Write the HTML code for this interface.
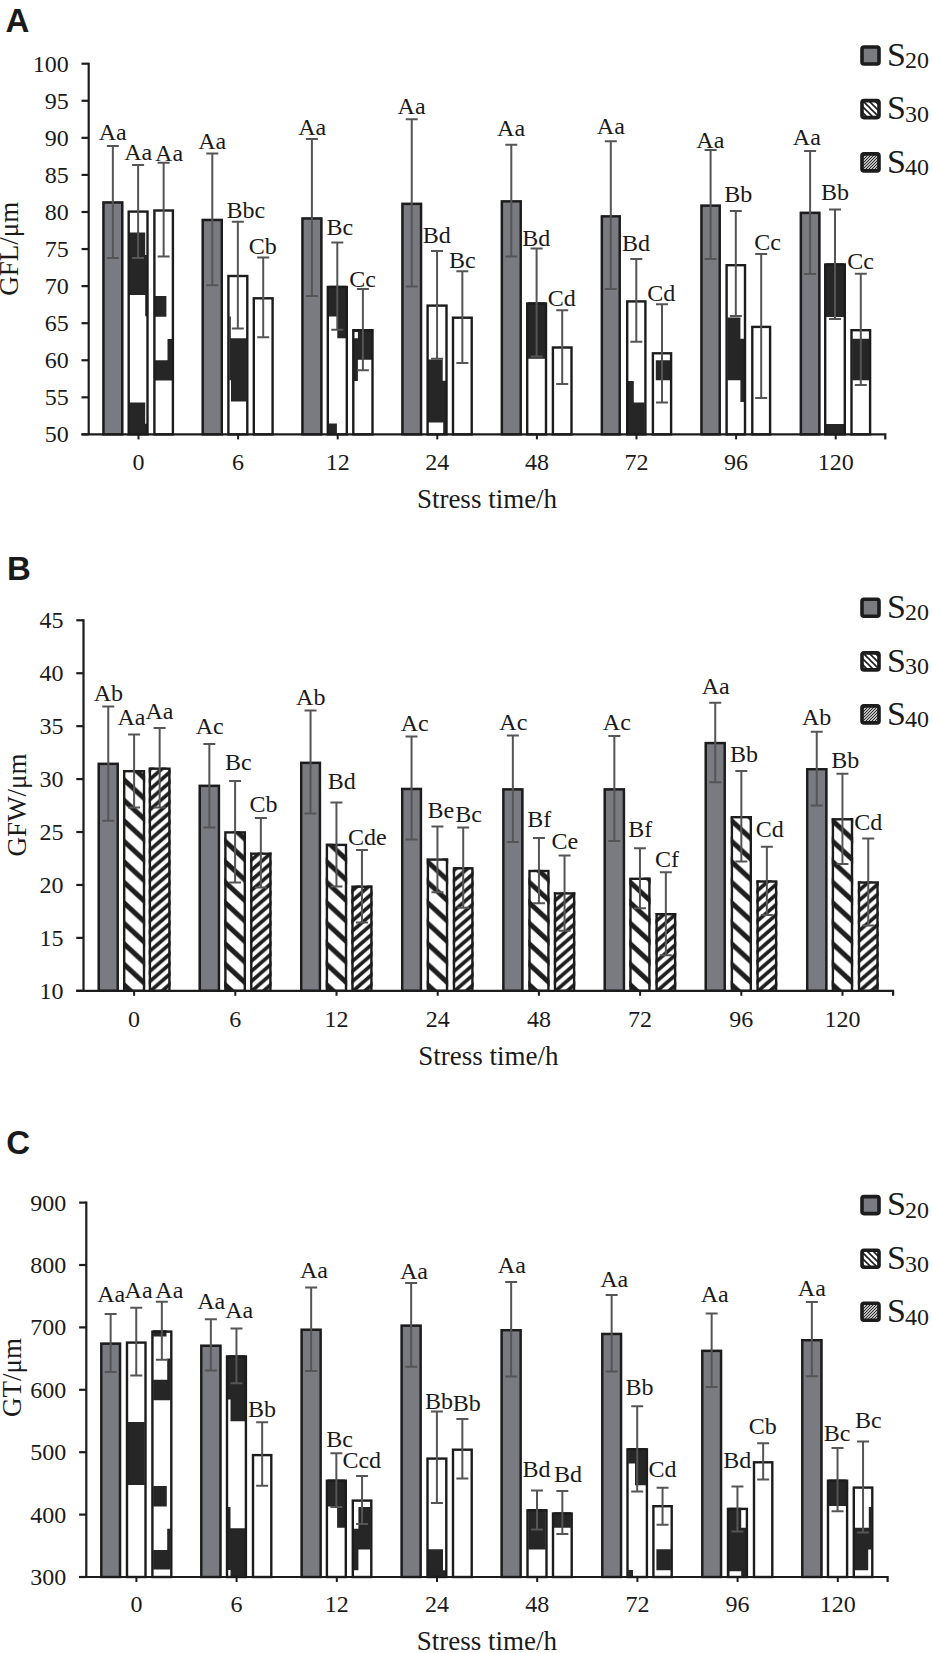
<!DOCTYPE html>
<html><head><meta charset="utf-8"><style>
html,body{margin:0;padding:0;background:#fff;}
svg{display:block;}
text{font-family:"Liberation Serif",serif;fill:#1a1a1a;}
.tk{font-size:24px;}
.dl{font-size:24px;}
.ax{font-size:27px;}
.lg{font-size:34px;}
.sub{font-size:24px;}
.pl{font-family:"Liberation Sans",sans-serif;font-weight:bold;font-size:33px;}
</style></head><body>
<svg width="933" height="1653" viewBox="0 0 933 1653">
<defs>
<pattern id="p30" patternUnits="userSpaceOnUse" width="22.283" height="20.5">
  <rect width="22.283" height="20.5" fill="#fff"/>
  <path d="M-3,-9.66 L25.283,16.36 M-3,10.84 L25.283,36.86 M-3,-30.16 L25.283,-4.14" stroke="#1e1e1e" stroke-width="5.0" fill="none"/>
</pattern>
<pattern id="p40" patternUnits="userSpaceOnUse" width="11.609" height="10.1">
  <rect width="11.609" height="10.1" fill="#fff"/>
  <path d="M-3,4.3 L14.609,-11.02 M-3,14.4 L14.609,-0.92 M-3,24.5 L14.609,9.18" stroke="#1e1e1e" stroke-width="3.7" fill="none"/>
</pattern>
<pattern id="l30" patternUnits="userSpaceOnUse" width="6" height="6">
  <rect width="6" height="6" fill="#fff"/>
  <path d="M-2,-2 L8,8 M-2,4 L2,8 M4,-2 L8,2" stroke="#1e1e1e" stroke-width="1.6" fill="none"/>
</pattern>
<pattern id="l40" patternUnits="userSpaceOnUse" width="3" height="3">
  <rect width="3" height="3" fill="#fff"/>
  <path d="M-1,4 L4,-1 M-1,1 L1,-1 M2,4 L4,2" stroke="#1e1e1e" stroke-width="1.1" fill="none"/>
</pattern>
</defs>
<rect width="933" height="1653" fill="#fff"/>
<rect x="102.3" y="201.3" width="21.1" height="233.1" fill="#797b80"/>
<rect x="127.5" y="210.4" width="21.2" height="224" fill="#fff"/>
<rect x="153.2" y="209.3" width="20.9" height="225.1" fill="#fff"/>
<rect x="201.6" y="218.8" width="21.4" height="215.6" fill="#797b80"/>
<rect x="227.2" y="274.8" width="21.3" height="159.6" fill="#fff"/>
<rect x="252.6" y="297.1" width="21.2" height="137.3" fill="#fff"/>
<rect x="301.3" y="217.3" width="21.2" height="217.1" fill="#797b80"/>
<rect x="326.6" y="285.8" width="21.4" height="148.6" fill="#fff"/>
<rect x="352.1" y="329" width="21.6" height="105.4" fill="#fff"/>
<rect x="401.3" y="202.7" width="20.9" height="231.7" fill="#797b80"/>
<rect x="426.4" y="304.4" width="21.3" height="130" fill="#fff"/>
<rect x="451.8" y="316.5" width="21.1" height="117.9" fill="#fff"/>
<rect x="500.7" y="200.2" width="21.2" height="234.2" fill="#797b80"/>
<rect x="526" y="302.3" width="21.2" height="132.1" fill="#fff"/>
<rect x="551.7" y="346.3" width="21" height="88.1" fill="#fff"/>
<rect x="600.7" y="215.2" width="20.2" height="219.2" fill="#797b80"/>
<rect x="626" y="300.2" width="20.6" height="134.2" fill="#fff"/>
<rect x="651.7" y="352.1" width="20.6" height="82.3" fill="#fff"/>
<rect x="700.3" y="204.5" width="20.6" height="229.9" fill="#797b80"/>
<rect x="725.4" y="264" width="20.8" height="170.4" fill="#fff"/>
<rect x="751.1" y="325.7" width="20.2" height="108.7" fill="#fff"/>
<rect x="799.7" y="211.7" width="20.8" height="222.7" fill="#797b80"/>
<rect x="824" y="263.3" width="22" height="171.1" fill="#fff"/>
<rect x="850.3" y="329" width="21" height="105.4" fill="#fff"/>
<path d="M128.6,232.4H145.2V255H128.6ZM128.6,255H146.9V295.1H128.6ZM145.2,295.1H147V316.3H145.2ZM128.6,402.6H145.2V434.4H128.6ZM145.2,423.7H147V434.4H145.2ZM154.3,295.9H166.4V316.8H154.3ZM167.5,339H173.2V360.2H167.5ZM154.3,360.2H173.2V380.6H154.3ZM229.4,338.3H246.6V380.2H229.4ZM231,380.2H246.6V401.5H231ZM229.4,316.6H230.8V338.3H229.4ZM328.6,285.8H346V316.5H328.6ZM337.3,316.5H346V338.3H337.3ZM328.6,423.5H336.9V434.4H328.6ZM354,338.3H372V359.7H354ZM357.9,329H372V338.3H357.9ZM354,329H357.9V332H354ZM354,359.7H357.9V380.9H354ZM427.7,359.5H442.7V380.8H427.7ZM427.7,380.8H446.5V422.6H427.7ZM443.2,422.6H446.5V434.4H443.2ZM528,302.3H545.2V358.8H528ZM628,380.9H633.8V402.5H628ZM628,402.5H644.6V434.4H628ZM655.8,360.3H670.3V380.2H655.8ZM727.4,317.5H740.4V380.2H727.4ZM740.4,338.7H744.1V402.1H740.4ZM826,263.3H844V317.1H826ZM826,424H844V434.4H826ZM852.3,338.7H869.3V380.2H852.3Z" fill="#262626"/>
<rect x="103.5" y="202.5" width="18.7" height="231.9" fill="none" stroke="#1c1c1c" stroke-width="2.4"/>
<rect x="128.7" y="211.6" width="18.8" height="222.8" fill="none" stroke="#1c1c1c" stroke-width="2.4"/>
<rect x="154.4" y="210.5" width="18.5" height="223.9" fill="none" stroke="#1c1c1c" stroke-width="2.4"/>
<rect x="202.8" y="220" width="19" height="214.4" fill="none" stroke="#1c1c1c" stroke-width="2.4"/>
<rect x="228.4" y="276" width="18.9" height="158.4" fill="none" stroke="#1c1c1c" stroke-width="2.4"/>
<rect x="253.8" y="298.3" width="18.8" height="136.1" fill="none" stroke="#1c1c1c" stroke-width="2.4"/>
<rect x="302.5" y="218.5" width="18.8" height="215.9" fill="none" stroke="#1c1c1c" stroke-width="2.4"/>
<rect x="327.8" y="287" width="19" height="147.4" fill="none" stroke="#1c1c1c" stroke-width="2.4"/>
<rect x="353.3" y="330.2" width="19.2" height="104.2" fill="none" stroke="#1c1c1c" stroke-width="2.4"/>
<rect x="402.5" y="203.9" width="18.5" height="230.5" fill="none" stroke="#1c1c1c" stroke-width="2.4"/>
<rect x="427.6" y="305.6" width="18.9" height="128.8" fill="none" stroke="#1c1c1c" stroke-width="2.4"/>
<rect x="453" y="317.7" width="18.7" height="116.7" fill="none" stroke="#1c1c1c" stroke-width="2.4"/>
<rect x="501.9" y="201.4" width="18.8" height="233" fill="none" stroke="#1c1c1c" stroke-width="2.4"/>
<rect x="527.2" y="303.5" width="18.8" height="130.9" fill="none" stroke="#1c1c1c" stroke-width="2.4"/>
<rect x="552.9" y="347.5" width="18.6" height="86.9" fill="none" stroke="#1c1c1c" stroke-width="2.4"/>
<rect x="601.9" y="216.4" width="17.8" height="218" fill="none" stroke="#1c1c1c" stroke-width="2.4"/>
<rect x="627.2" y="301.4" width="18.2" height="133" fill="none" stroke="#1c1c1c" stroke-width="2.4"/>
<rect x="652.9" y="353.3" width="18.2" height="81.1" fill="none" stroke="#1c1c1c" stroke-width="2.4"/>
<rect x="701.5" y="205.7" width="18.2" height="228.7" fill="none" stroke="#1c1c1c" stroke-width="2.4"/>
<rect x="726.6" y="265.2" width="18.4" height="169.2" fill="none" stroke="#1c1c1c" stroke-width="2.4"/>
<rect x="752.3" y="326.9" width="17.8" height="107.5" fill="none" stroke="#1c1c1c" stroke-width="2.4"/>
<rect x="800.9" y="212.9" width="18.4" height="221.5" fill="none" stroke="#1c1c1c" stroke-width="2.4"/>
<rect x="825.2" y="264.5" width="19.6" height="169.9" fill="none" stroke="#1c1c1c" stroke-width="2.4"/>
<rect x="851.5" y="330.2" width="18.6" height="104.2" fill="none" stroke="#1c1c1c" stroke-width="2.4"/>
<path d="M112.85,145.9 V258.1 M106.85,145.9 H118.85 M106.85,258.1 H118.85" stroke="#555555" stroke-width="2" fill="none"/>
<path d="M138.1,165.1 V258.1 M132.1,165.1 H144.1 M132.1,258.1 H144.1" stroke="#555555" stroke-width="2" fill="none"/>
<path d="M163.65,162.7 V256.6 M157.65,162.7 H169.65 M157.65,256.6 H169.65" stroke="#555555" stroke-width="2" fill="none"/>
<path d="M212.3,153.5 V285.3 M206.3,153.5 H218.3 M206.3,285.3 H218.3" stroke="#555555" stroke-width="2" fill="none"/>
<path d="M237.85,221.7 V328.6 M231.85,221.7 H243.85 M231.85,328.6 H243.85" stroke="#555555" stroke-width="2" fill="none"/>
<path d="M263.2,257.4 V337.3 M257.2,257.4 H269.2 M257.2,337.3 H269.2" stroke="#555555" stroke-width="2" fill="none"/>
<path d="M311.9,139.1 V296.1 M305.9,139.1 H317.9 M305.9,296.1 H317.9" stroke="#555555" stroke-width="2" fill="none"/>
<path d="M337.3,242.6 V329.8 M331.3,242.6 H343.3 M331.3,329.8 H343.3" stroke="#555555" stroke-width="2" fill="none"/>
<path d="M362.9,288.9 V370.2 M356.9,288.9 H368.9 M356.9,370.2 H368.9" stroke="#555555" stroke-width="2" fill="none"/>
<path d="M411.75,119.2 V286.5 M405.75,119.2 H417.75 M405.75,286.5 H417.75" stroke="#555555" stroke-width="2" fill="none"/>
<path d="M437.05,251 V358.8 M431.05,251 H443.05 M431.05,358.8 H443.05" stroke="#555555" stroke-width="2" fill="none"/>
<path d="M462.35,271.3 V362.9 M456.35,271.3 H468.35 M456.35,362.9 H468.35" stroke="#555555" stroke-width="2" fill="none"/>
<path d="M511.3,144.7 V256.4 M505.3,144.7 H517.3 M505.3,256.4 H517.3" stroke="#555555" stroke-width="2" fill="none"/>
<path d="M536.6,248.6 V356.6 M530.6,248.6 H542.6 M530.6,356.6 H542.6" stroke="#555555" stroke-width="2" fill="none"/>
<path d="M562.2,310.3 V384 M556.2,310.3 H568.2 M556.2,384 H568.2" stroke="#555555" stroke-width="2" fill="none"/>
<path d="M610.8,141.2 V288.9 M604.8,141.2 H616.8 M604.8,288.9 H616.8" stroke="#555555" stroke-width="2" fill="none"/>
<path d="M636.3,259 V341.8 M630.3,259 H642.3 M630.3,341.8 H642.3" stroke="#555555" stroke-width="2" fill="none"/>
<path d="M662,304.3 V402.5 M656,304.3 H668 M656,402.5 H668" stroke="#555555" stroke-width="2" fill="none"/>
<path d="M710.6,150 V259.1 M704.6,150 H716.6 M704.6,259.1 H716.6" stroke="#555555" stroke-width="2" fill="none"/>
<path d="M735.8,211.1 V316 M729.8,211.1 H741.8 M729.8,316 H741.8" stroke="#555555" stroke-width="2" fill="none"/>
<path d="M761.2,253.9 V397.9 M755.2,253.9 H767.2 M755.2,397.9 H767.2" stroke="#555555" stroke-width="2" fill="none"/>
<path d="M810.1,151 V273.9 M804.1,151 H816.1 M804.1,273.9 H816.1" stroke="#555555" stroke-width="2" fill="none"/>
<path d="M835,209.6 V319.1 M829,209.6 H841 M829,319.1 H841" stroke="#555555" stroke-width="2" fill="none"/>
<path d="M860.8,273.7 V385 M854.8,273.7 H866.8 M854.8,385 H866.8" stroke="#555555" stroke-width="2" fill="none"/>
<path d="M88.7,62.7 V434.4 M81.5,434.4 H885.3 V439.4" stroke="#1c1c1c" stroke-width="2.2" fill="none"/>
<path d="M81.5,63.7 H88.7" stroke="#1c1c1c" stroke-width="2.2"/>
<text x="68.7" y="71.7" class="tk" text-anchor="end">100</text>
<path d="M81.5,100.77 H88.7" stroke="#1c1c1c" stroke-width="2.2"/>
<text x="68.7" y="108.77" class="tk" text-anchor="end">95</text>
<path d="M81.5,137.84 H88.7" stroke="#1c1c1c" stroke-width="2.2"/>
<text x="68.7" y="145.84" class="tk" text-anchor="end">90</text>
<path d="M81.5,174.91 H88.7" stroke="#1c1c1c" stroke-width="2.2"/>
<text x="68.7" y="182.91" class="tk" text-anchor="end">85</text>
<path d="M81.5,211.98 H88.7" stroke="#1c1c1c" stroke-width="2.2"/>
<text x="68.7" y="219.98" class="tk" text-anchor="end">80</text>
<path d="M81.5,249.05 H88.7" stroke="#1c1c1c" stroke-width="2.2"/>
<text x="68.7" y="257.05" class="tk" text-anchor="end">75</text>
<path d="M81.5,286.12 H88.7" stroke="#1c1c1c" stroke-width="2.2"/>
<text x="68.7" y="294.12" class="tk" text-anchor="end">70</text>
<path d="M81.5,323.19 H88.7" stroke="#1c1c1c" stroke-width="2.2"/>
<text x="68.7" y="331.19" class="tk" text-anchor="end">65</text>
<path d="M81.5,360.26 H88.7" stroke="#1c1c1c" stroke-width="2.2"/>
<text x="68.7" y="368.26" class="tk" text-anchor="end">60</text>
<path d="M81.5,397.33 H88.7" stroke="#1c1c1c" stroke-width="2.2"/>
<text x="68.7" y="405.33" class="tk" text-anchor="end">55</text>
<path d="M81.5,434.4 H88.7" stroke="#1c1c1c" stroke-width="2.2"/>
<text x="68.7" y="442.4" class="tk" text-anchor="end">50</text>
<path d="M138.5,434.4 V439.4" stroke="#1c1c1c" stroke-width="2"/>
<text x="138.5" y="470" class="tk" text-anchor="middle">0</text>
<path d="M238.1,434.4 V439.4" stroke="#1c1c1c" stroke-width="2"/>
<text x="238.1" y="470" class="tk" text-anchor="middle">6</text>
<path d="M337.7,434.4 V439.4" stroke="#1c1c1c" stroke-width="2"/>
<text x="337.7" y="470" class="tk" text-anchor="middle">12</text>
<path d="M437.3,434.4 V439.4" stroke="#1c1c1c" stroke-width="2"/>
<text x="437.3" y="470" class="tk" text-anchor="middle">24</text>
<path d="M536.9,434.4 V439.4" stroke="#1c1c1c" stroke-width="2"/>
<text x="536.9" y="470" class="tk" text-anchor="middle">48</text>
<path d="M636.5,434.4 V439.4" stroke="#1c1c1c" stroke-width="2"/>
<text x="636.5" y="470" class="tk" text-anchor="middle">72</text>
<path d="M736.1,434.4 V439.4" stroke="#1c1c1c" stroke-width="2"/>
<text x="736.1" y="470" class="tk" text-anchor="middle">96</text>
<path d="M835.7,434.4 V439.4" stroke="#1c1c1c" stroke-width="2"/>
<text x="835.7" y="470" class="tk" text-anchor="middle">120</text>
<text x="112.75" y="140" class="dl" text-anchor="middle">Aa</text>
<text x="138.2" y="160.1" class="dl" text-anchor="middle">Aa</text>
<text x="169.05" y="161.2" class="dl" text-anchor="middle">Aa</text>
<text x="212.25" y="149.4" class="dl" text-anchor="middle">Aa</text>
<text x="245.75" y="217.8" class="dl" text-anchor="middle">Bbc</text>
<text x="262.7" y="253.6" class="dl" text-anchor="middle">Cb</text>
<text x="312.15" y="134.6" class="dl" text-anchor="middle">Aa</text>
<text x="339.9" y="235.4" class="dl" text-anchor="middle">Bc</text>
<text x="362.7" y="286.8" class="dl" text-anchor="middle">Cc</text>
<text x="411.6" y="114.4" class="dl" text-anchor="middle">Aa</text>
<text x="436.85" y="242.9" class="dl" text-anchor="middle">Bd</text>
<text x="462.45" y="268" class="dl" text-anchor="middle">Bc</text>
<text x="511.1" y="135.6" class="dl" text-anchor="middle">Aa</text>
<text x="536.3" y="245.6" class="dl" text-anchor="middle">Bd</text>
<text x="561.7" y="306.4" class="dl" text-anchor="middle">Cd</text>
<text x="610.85" y="134.1" class="dl" text-anchor="middle">Aa</text>
<text x="636.1" y="251.4" class="dl" text-anchor="middle">Bd</text>
<text x="661.2" y="301.2" class="dl" text-anchor="middle">Cd</text>
<text x="710.35" y="147.5" class="dl" text-anchor="middle">Aa</text>
<text x="738.15" y="201.8" class="dl" text-anchor="middle">Bb</text>
<text x="767.65" y="249.8" class="dl" text-anchor="middle">Cc</text>
<text x="806.85" y="145" class="dl" text-anchor="middle">Aa</text>
<text x="835.05" y="200.2" class="dl" text-anchor="middle">Bb</text>
<text x="860.7" y="269.2" class="dl" text-anchor="middle">Cc</text>
<text transform="translate(18.4,248.7) rotate(-90)" class="ax" text-anchor="middle">GFL/μm</text>
<text x="487" y="508.3" class="ax" text-anchor="middle">Stress time/h</text>
<text x="5.6" y="31.9" class="pl">A</text>
<rect x="862" y="47" width="17" height="17" rx="2" fill="#797b80" stroke="#1c1c1c" stroke-width="3.6"/>
<text x="887" y="65.7" class="lg">S<tspan class="sub" dx="-1" dy="2.5">20</tspan></text>
<rect x="862" y="100.6" width="17" height="17" rx="2" fill="url(#l30)" stroke="#1c1c1c" stroke-width="3.6"/>
<text x="887" y="119.3" class="lg">S<tspan class="sub" dx="-1" dy="2.5">30</tspan></text>
<rect x="862" y="153.9" width="17" height="17" rx="2" fill="url(#l40)" stroke="#1c1c1c" stroke-width="3.6"/>
<text x="887" y="172.6" class="lg">S<tspan class="sub" dx="-1" dy="2.5">40</tspan></text>
<rect x="97.6" y="762.7" width="21.3" height="228.1" fill="#797b80"/>
<g transform="translate(123,990.8)"><rect x="0" y="-220.8" width="22.2" height="220.8" fill="url(#p30)"/></g>
<g transform="translate(148.7,990.8)"><rect x="0" y="-223.3" width="21.9" height="223.3" fill="url(#p40)"/></g>
<rect x="198.6" y="784.7" width="21.5" height="206.1" fill="#797b80"/>
<g transform="translate(224.2,990.8)"><rect x="0" y="-159.6" width="21.8" height="159.6" fill="url(#p30)"/></g>
<g transform="translate(250.1,990.8)"><rect x="0" y="-138.3" width="21.5" height="138.3" fill="url(#p40)"/></g>
<rect x="300" y="761.7" width="21.1" height="229.1" fill="#797b80"/>
<g transform="translate(325.7,990.8)"><rect x="0" y="-147.1" width="21.5" height="147.1" fill="url(#p30)"/></g>
<g transform="translate(351.3,990.8)"><rect x="0" y="-105.3" width="21.3" height="105.3" fill="url(#p40)"/></g>
<rect x="401" y="787.8" width="21.1" height="203" fill="#797b80"/>
<g transform="translate(426.7,990.8)"><rect x="0" y="-132.4" width="21.5" height="132.4" fill="url(#p30)"/></g>
<g transform="translate(452.8,990.8)"><rect x="0" y="-123.7" width="20.8" height="123.7" fill="url(#p40)"/></g>
<rect x="502.2" y="788.2" width="21.3" height="202.6" fill="#797b80"/>
<g transform="translate(528.3,990.8)"><rect x="0" y="-121" width="21.3" height="121" fill="url(#p30)"/></g>
<g transform="translate(553.8,990.8)"><rect x="0" y="-98.6" width="21.5" height="98.6" fill="url(#p40)"/></g>
<rect x="603.6" y="788.2" width="21.5" height="202.6" fill="#797b80"/>
<g transform="translate(629.3,990.8)"><rect x="0" y="-113.2" width="21.3" height="113.2" fill="url(#p30)"/></g>
<g transform="translate(655.4,990.8)"><rect x="0" y="-77.8" width="20.9" height="77.8" fill="url(#p40)"/></g>
<rect x="704.6" y="741.9" width="21.3" height="248.9" fill="#797b80"/>
<g transform="translate(730.7,990.8)"><rect x="0" y="-174.8" width="21.3" height="174.8" fill="url(#p30)"/></g>
<g transform="translate(756.4,990.8)"><rect x="0" y="-110.5" width="20.9" height="110.5" fill="url(#p40)"/></g>
<rect x="806" y="768" width="21.5" height="222.8" fill="#797b80"/>
<g transform="translate(831.7,990.8)"><rect x="0" y="-172.7" width="21.5" height="172.7" fill="url(#p30)"/></g>
<g transform="translate(857.8,990.8)"><rect x="0" y="-109.5" width="20.9" height="109.5" fill="url(#p40)"/></g>
<rect x="98.8" y="763.9" width="18.9" height="226.9" fill="none" stroke="#1c1c1c" stroke-width="2.4"/>
<rect x="124.2" y="771.2" width="19.8" height="219.6" fill="none" stroke="#1c1c1c" stroke-width="2.4"/>
<rect x="149.9" y="768.7" width="19.5" height="222.1" fill="none" stroke="#1c1c1c" stroke-width="2.4"/>
<rect x="199.8" y="785.9" width="19.1" height="204.9" fill="none" stroke="#1c1c1c" stroke-width="2.4"/>
<rect x="225.4" y="832.4" width="19.4" height="158.4" fill="none" stroke="#1c1c1c" stroke-width="2.4"/>
<rect x="251.3" y="853.7" width="19.1" height="137.1" fill="none" stroke="#1c1c1c" stroke-width="2.4"/>
<rect x="301.2" y="762.9" width="18.7" height="227.9" fill="none" stroke="#1c1c1c" stroke-width="2.4"/>
<rect x="326.9" y="844.9" width="19.1" height="145.9" fill="none" stroke="#1c1c1c" stroke-width="2.4"/>
<rect x="352.5" y="886.7" width="18.9" height="104.1" fill="none" stroke="#1c1c1c" stroke-width="2.4"/>
<rect x="402.2" y="789" width="18.7" height="201.8" fill="none" stroke="#1c1c1c" stroke-width="2.4"/>
<rect x="427.9" y="859.6" width="19.1" height="131.2" fill="none" stroke="#1c1c1c" stroke-width="2.4"/>
<rect x="454" y="868.3" width="18.4" height="122.5" fill="none" stroke="#1c1c1c" stroke-width="2.4"/>
<rect x="503.4" y="789.4" width="18.9" height="201.4" fill="none" stroke="#1c1c1c" stroke-width="2.4"/>
<rect x="529.5" y="871" width="18.9" height="119.8" fill="none" stroke="#1c1c1c" stroke-width="2.4"/>
<rect x="555" y="893.4" width="19.1" height="97.4" fill="none" stroke="#1c1c1c" stroke-width="2.4"/>
<rect x="604.8" y="789.4" width="19.1" height="201.4" fill="none" stroke="#1c1c1c" stroke-width="2.4"/>
<rect x="630.5" y="878.8" width="18.9" height="112" fill="none" stroke="#1c1c1c" stroke-width="2.4"/>
<rect x="656.6" y="914.2" width="18.5" height="76.6" fill="none" stroke="#1c1c1c" stroke-width="2.4"/>
<rect x="705.8" y="743.1" width="18.9" height="247.7" fill="none" stroke="#1c1c1c" stroke-width="2.4"/>
<rect x="731.9" y="817.2" width="18.9" height="173.6" fill="none" stroke="#1c1c1c" stroke-width="2.4"/>
<rect x="757.6" y="881.5" width="18.5" height="109.3" fill="none" stroke="#1c1c1c" stroke-width="2.4"/>
<rect x="807.2" y="769.2" width="19.1" height="221.6" fill="none" stroke="#1c1c1c" stroke-width="2.4"/>
<rect x="832.9" y="819.3" width="19.1" height="171.5" fill="none" stroke="#1c1c1c" stroke-width="2.4"/>
<rect x="859" y="882.5" width="18.5" height="108.3" fill="none" stroke="#1c1c1c" stroke-width="2.4"/>
<path d="M108.25,706.4 V820.8 M102.25,706.4 H114.25 M102.25,820.8 H114.25" stroke="#555555" stroke-width="2" fill="none"/>
<path d="M134.1,734.6 V807.6 M128.1,734.6 H140.1 M128.1,807.6 H140.1" stroke="#555555" stroke-width="2" fill="none"/>
<path d="M159.65,727.9 V807.6 M153.65,727.9 H165.65 M153.65,807.6 H165.65" stroke="#555555" stroke-width="2" fill="none"/>
<path d="M209.35,743.9 V827.5 M203.35,743.9 H215.35 M203.35,827.5 H215.35" stroke="#555555" stroke-width="2" fill="none"/>
<path d="M235.1,781.1 V882.4 M229.1,781.1 H241.1 M229.1,882.4 H241.1" stroke="#555555" stroke-width="2" fill="none"/>
<path d="M260.85,818.1 V887.6 M254.85,818.1 H266.85 M254.85,887.6 H266.85" stroke="#555555" stroke-width="2" fill="none"/>
<path d="M310.55,710.5 V813.5 M304.55,710.5 H316.55 M304.55,813.5 H316.55" stroke="#555555" stroke-width="2" fill="none"/>
<path d="M336.45,802.4 V886.5 M330.45,802.4 H342.45 M330.45,886.5 H342.45" stroke="#555555" stroke-width="2" fill="none"/>
<path d="M361.95,850 V922.4 M355.95,850 H367.95 M355.95,922.4 H367.95" stroke="#555555" stroke-width="2" fill="none"/>
<path d="M411.55,736.6 V839.6 M405.55,736.6 H417.55 M405.55,839.6 H417.55" stroke="#555555" stroke-width="2" fill="none"/>
<path d="M437.45,826.4 V892.2 M431.45,826.4 H443.45 M431.45,892.2 H443.45" stroke="#555555" stroke-width="2" fill="none"/>
<path d="M463.2,827.5 V907.8 M457.2,827.5 H469.2 M457.2,907.8 H469.2" stroke="#555555" stroke-width="2" fill="none"/>
<path d="M512.85,735.6 V842.1 M506.85,735.6 H518.85 M506.85,842.1 H518.85" stroke="#555555" stroke-width="2" fill="none"/>
<path d="M538.95,837.9 V903.2 M532.95,837.9 H544.95 M532.95,903.2 H544.95" stroke="#555555" stroke-width="2" fill="none"/>
<path d="M564.55,855.6 V930.8 M558.55,855.6 H570.55 M558.55,930.8 H570.55" stroke="#555555" stroke-width="2" fill="none"/>
<path d="M614.35,736 V841 M608.35,736 H620.35 M608.35,841 H620.35" stroke="#555555" stroke-width="2" fill="none"/>
<path d="M639.95,848.3 V908.2 M633.95,848.3 H645.95 M633.95,908.2 H645.95" stroke="#555555" stroke-width="2" fill="none"/>
<path d="M665.85,872.3 V955.2 M659.85,872.3 H671.85 M659.85,955.2 H671.85" stroke="#555555" stroke-width="2" fill="none"/>
<path d="M715.25,702.8 V782.2 M709.25,702.8 H721.25 M709.25,782.2 H721.25" stroke="#555555" stroke-width="2" fill="none"/>
<path d="M741.35,771.1 V861.5 M735.35,771.1 H747.35 M735.35,861.5 H747.35" stroke="#555555" stroke-width="2" fill="none"/>
<path d="M766.85,846.7 V915.1 M760.85,846.7 H772.85 M760.85,915.1 H772.85" stroke="#555555" stroke-width="2" fill="none"/>
<path d="M816.75,731.8 V805.5 M810.75,731.8 H822.75 M810.75,805.5 H822.75" stroke="#555555" stroke-width="2" fill="none"/>
<path d="M842.45,773.8 V864 M836.45,773.8 H848.45 M836.45,864 H848.45" stroke="#555555" stroke-width="2" fill="none"/>
<path d="M868.25,838.5 V925.6 M862.25,838.5 H874.25 M862.25,925.6 H874.25" stroke="#555555" stroke-width="2" fill="none"/>
<path d="M83.5,619.3 V990.8 M76.3,990.8 H893.1 V995.8" stroke="#1c1c1c" stroke-width="2.2" fill="none"/>
<path d="M76.3,620.3 H83.5" stroke="#1c1c1c" stroke-width="2.2"/>
<text x="63.5" y="628.3" class="tk" text-anchor="end">45</text>
<path d="M76.3,673.23 H83.5" stroke="#1c1c1c" stroke-width="2.2"/>
<text x="63.5" y="681.23" class="tk" text-anchor="end">40</text>
<path d="M76.3,726.16 H83.5" stroke="#1c1c1c" stroke-width="2.2"/>
<text x="63.5" y="734.16" class="tk" text-anchor="end">35</text>
<path d="M76.3,779.09 H83.5" stroke="#1c1c1c" stroke-width="2.2"/>
<text x="63.5" y="787.09" class="tk" text-anchor="end">30</text>
<path d="M76.3,832.02 H83.5" stroke="#1c1c1c" stroke-width="2.2"/>
<text x="63.5" y="840.02" class="tk" text-anchor="end">25</text>
<path d="M76.3,884.95 H83.5" stroke="#1c1c1c" stroke-width="2.2"/>
<text x="63.5" y="892.95" class="tk" text-anchor="end">20</text>
<path d="M76.3,937.88 H83.5" stroke="#1c1c1c" stroke-width="2.2"/>
<text x="63.5" y="945.88" class="tk" text-anchor="end">15</text>
<path d="M76.3,990.81 H83.5" stroke="#1c1c1c" stroke-width="2.2"/>
<text x="63.5" y="998.81" class="tk" text-anchor="end">10</text>
<path d="M134.1,990.8 V995.8" stroke="#1c1c1c" stroke-width="2"/>
<text x="134.1" y="1026.9" class="tk" text-anchor="middle">0</text>
<path d="M235.3,990.8 V995.8" stroke="#1c1c1c" stroke-width="2"/>
<text x="235.3" y="1026.9" class="tk" text-anchor="middle">6</text>
<path d="M336.5,990.8 V995.8" stroke="#1c1c1c" stroke-width="2"/>
<text x="336.5" y="1026.9" class="tk" text-anchor="middle">12</text>
<path d="M437.7,990.8 V995.8" stroke="#1c1c1c" stroke-width="2"/>
<text x="437.7" y="1026.9" class="tk" text-anchor="middle">24</text>
<path d="M538.9,990.8 V995.8" stroke="#1c1c1c" stroke-width="2"/>
<text x="538.9" y="1026.9" class="tk" text-anchor="middle">48</text>
<path d="M640.1,990.8 V995.8" stroke="#1c1c1c" stroke-width="2"/>
<text x="640.1" y="1026.9" class="tk" text-anchor="middle">72</text>
<path d="M741.3,990.8 V995.8" stroke="#1c1c1c" stroke-width="2"/>
<text x="741.3" y="1026.9" class="tk" text-anchor="middle">96</text>
<path d="M842.5,990.8 V995.8" stroke="#1c1c1c" stroke-width="2"/>
<text x="842.5" y="1026.9" class="tk" text-anchor="middle">120</text>
<text x="108.45" y="701.3" class="dl" text-anchor="middle">Ab</text>
<text x="131.45" y="724.7" class="dl" text-anchor="middle">Aa</text>
<text x="159.45" y="719.1" class="dl" text-anchor="middle">Aa</text>
<text x="209.75" y="734.1" class="dl" text-anchor="middle">Ac</text>
<text x="238.25" y="769.6" class="dl" text-anchor="middle">Bc</text>
<text x="263.5" y="812.4" class="dl" text-anchor="middle">Cb</text>
<text x="310.75" y="705.3" class="dl" text-anchor="middle">Ab</text>
<text x="341.85" y="789.4" class="dl" text-anchor="middle">Bd</text>
<text x="367.4" y="844.8" class="dl" text-anchor="middle">Cde</text>
<text x="414.65" y="731" class="dl" text-anchor="middle">Ac</text>
<text x="440.85" y="818.2" class="dl" text-anchor="middle">Be</text>
<text x="468.65" y="822.4" class="dl" text-anchor="middle">Bc</text>
<text x="513.35" y="729.5" class="dl" text-anchor="middle">Ac</text>
<text x="539.15" y="827" class="dl" text-anchor="middle">Bf</text>
<text x="564.75" y="848.9" class="dl" text-anchor="middle">Ce</text>
<text x="616.85" y="729.5" class="dl" text-anchor="middle">Ac</text>
<text x="640.15" y="837" class="dl" text-anchor="middle">Bf</text>
<text x="666.95" y="866.7" class="dl" text-anchor="middle">Cf</text>
<text x="715.75" y="694.4" class="dl" text-anchor="middle">Aa</text>
<text x="743.95" y="762.3" class="dl" text-anchor="middle">Bb</text>
<text x="769.65" y="837" class="dl" text-anchor="middle">Cd</text>
<text x="816.65" y="724.7" class="dl" text-anchor="middle">Ab</text>
<text x="845.25" y="767.5" class="dl" text-anchor="middle">Bb</text>
<text x="868.25" y="830.1" class="dl" text-anchor="middle">Cd</text>
<text transform="translate(25.7,804.9) rotate(-90)" class="ax" text-anchor="middle">GFW/μm</text>
<text x="488.3" y="1064.7" class="ax" text-anchor="middle">Stress time/h</text>
<text x="7.1" y="580.3" class="pl">B</text>
<rect x="862" y="599.2" width="17" height="17" rx="2" fill="#797b80" stroke="#1c1c1c" stroke-width="3.6"/>
<text x="887" y="617.9" class="lg">S<tspan class="sub" dx="-1" dy="2.5">20</tspan></text>
<rect x="862" y="652.9" width="17" height="17" rx="2" fill="url(#l30)" stroke="#1c1c1c" stroke-width="3.6"/>
<text x="887" y="671.6" class="lg">S<tspan class="sub" dx="-1" dy="2.5">30</tspan></text>
<rect x="862" y="705.9" width="17" height="17" rx="2" fill="url(#l40)" stroke="#1c1c1c" stroke-width="3.6"/>
<text x="887" y="724.6" class="lg">S<tspan class="sub" dx="-1" dy="2.5">40</tspan></text>
<rect x="100.1" y="1342.5" width="21.1" height="234.5" fill="#797b80"/>
<rect x="125.8" y="1341.4" width="20.9" height="235.6" fill="#fff"/>
<rect x="151.2" y="1330.4" width="21.3" height="246.6" fill="#fff"/>
<rect x="200.1" y="1344.6" width="21.5" height="232.4" fill="#797b80"/>
<rect x="225.8" y="1355.3" width="21.3" height="221.7" fill="#fff"/>
<rect x="251.8" y="1453.9" width="20.7" height="123.1" fill="#fff"/>
<rect x="300.5" y="1328.6" width="21.3" height="248.4" fill="#797b80"/>
<rect x="325.7" y="1479.5" width="21.3" height="97.5" fill="#fff"/>
<rect x="351.6" y="1499.4" width="20.9" height="77.6" fill="#fff"/>
<rect x="400.5" y="1324.5" width="21.3" height="252.5" fill="#797b80"/>
<rect x="426.3" y="1457.4" width="21.2" height="119.6" fill="#fff"/>
<rect x="451.8" y="1448.5" width="21.1" height="128.5" fill="#fff"/>
<rect x="500.5" y="1329" width="21.3" height="248" fill="#797b80"/>
<rect x="526.3" y="1509.1" width="21.4" height="67.9" fill="#fff"/>
<rect x="551.8" y="1512.3" width="21.1" height="64.7" fill="#fff"/>
<rect x="601.1" y="1332.8" width="21.1" height="244.2" fill="#797b80"/>
<rect x="626.3" y="1448.1" width="21.8" height="128.9" fill="#fff"/>
<rect x="652.2" y="1505" width="20.7" height="72" fill="#fff"/>
<rect x="701.1" y="1349.7" width="21.1" height="227.3" fill="#797b80"/>
<rect x="726.8" y="1507.7" width="21.3" height="69.3" fill="#fff"/>
<rect x="752.8" y="1461.1" width="20.7" height="115.9" fill="#fff"/>
<rect x="801.1" y="1339" width="21.5" height="238" fill="#797b80"/>
<rect x="826.8" y="1479.5" width="21.5" height="97.5" fill="#fff"/>
<rect x="852.6" y="1486.4" width="20.9" height="90.6" fill="#fff"/>
<path d="M127.8,1422H144.7V1485H127.8ZM153.2,1330.2H166.5V1336.5H153.2ZM167.2,1358.6H170.5V1379.8H167.2ZM153.2,1379.8H170.5V1400.3H153.2ZM153.2,1486.1H166.8V1506.6H153.2ZM167.2,1528.7H170.5V1549.9H167.2ZM153.2,1549.9H170.5V1569.6H153.2ZM227.8,1355.3H245.1V1399.4H227.8ZM230.5,1399.4H245.1V1421.2H230.5ZM227.8,1507H230.5V1570H227.8ZM230.5,1528.2H245.1V1577H230.5ZM327.7,1479.5H345V1506.5H327.7ZM337.1,1506.5H345V1527.8H337.1ZM358.4,1507.1H370.5V1528.8H358.4ZM353.6,1528.8H370.5V1549.5H353.6ZM353.6,1549.5H358.4V1570.2H353.6ZM428,1549.3H443V1577H428ZM443,1570.3H446V1577H443ZM528.3,1509.1H545.7V1549.5H528.3ZM553.8,1512.3H570.9V1527.8H553.8ZM628.3,1448.1H646.1V1463.6H628.3ZM635,1463.6H646.1V1485.3H635ZM628.3,1570H633V1577H628.3ZM656.4,1549.3H670.9V1570.2H656.4ZM728.8,1507.7H741.2V1571.3H728.8ZM741.2,1527.8H746.1V1577H741.2ZM728.8,1571.3H729.4V1577H728.8ZM828.8,1479.5H846.3V1506H828.8ZM868.8,1507.1H871.5V1527.8H868.8ZM854.6,1527.8H871.5V1549.5H854.6ZM854.6,1549.5H868.2V1570.2H854.6Z" fill="#262626"/>
<rect x="101.3" y="1343.7" width="18.7" height="233.3" fill="none" stroke="#1c1c1c" stroke-width="2.4"/>
<rect x="127" y="1342.6" width="18.5" height="234.4" fill="none" stroke="#1c1c1c" stroke-width="2.4"/>
<rect x="152.4" y="1331.6" width="18.9" height="245.4" fill="none" stroke="#1c1c1c" stroke-width="2.4"/>
<rect x="201.3" y="1345.8" width="19.1" height="231.2" fill="none" stroke="#1c1c1c" stroke-width="2.4"/>
<rect x="227" y="1356.5" width="18.9" height="220.5" fill="none" stroke="#1c1c1c" stroke-width="2.4"/>
<rect x="253" y="1455.1" width="18.3" height="121.9" fill="none" stroke="#1c1c1c" stroke-width="2.4"/>
<rect x="301.7" y="1329.8" width="18.9" height="247.2" fill="none" stroke="#1c1c1c" stroke-width="2.4"/>
<rect x="326.9" y="1480.7" width="18.9" height="96.3" fill="none" stroke="#1c1c1c" stroke-width="2.4"/>
<rect x="352.8" y="1500.6" width="18.5" height="76.4" fill="none" stroke="#1c1c1c" stroke-width="2.4"/>
<rect x="401.7" y="1325.7" width="18.9" height="251.3" fill="none" stroke="#1c1c1c" stroke-width="2.4"/>
<rect x="427.5" y="1458.6" width="18.8" height="118.4" fill="none" stroke="#1c1c1c" stroke-width="2.4"/>
<rect x="453" y="1449.7" width="18.7" height="127.3" fill="none" stroke="#1c1c1c" stroke-width="2.4"/>
<rect x="501.7" y="1330.2" width="18.9" height="246.8" fill="none" stroke="#1c1c1c" stroke-width="2.4"/>
<rect x="527.5" y="1510.3" width="19" height="66.7" fill="none" stroke="#1c1c1c" stroke-width="2.4"/>
<rect x="553" y="1513.5" width="18.7" height="63.5" fill="none" stroke="#1c1c1c" stroke-width="2.4"/>
<rect x="602.3" y="1334" width="18.7" height="243" fill="none" stroke="#1c1c1c" stroke-width="2.4"/>
<rect x="627.5" y="1449.3" width="19.4" height="127.7" fill="none" stroke="#1c1c1c" stroke-width="2.4"/>
<rect x="653.4" y="1506.2" width="18.3" height="70.8" fill="none" stroke="#1c1c1c" stroke-width="2.4"/>
<rect x="702.3" y="1350.9" width="18.7" height="226.1" fill="none" stroke="#1c1c1c" stroke-width="2.4"/>
<rect x="728" y="1508.9" width="18.9" height="68.1" fill="none" stroke="#1c1c1c" stroke-width="2.4"/>
<rect x="754" y="1462.3" width="18.3" height="114.7" fill="none" stroke="#1c1c1c" stroke-width="2.4"/>
<rect x="802.3" y="1340.2" width="19.1" height="236.8" fill="none" stroke="#1c1c1c" stroke-width="2.4"/>
<rect x="828" y="1480.7" width="19.1" height="96.3" fill="none" stroke="#1c1c1c" stroke-width="2.4"/>
<rect x="853.8" y="1487.6" width="18.5" height="89.4" fill="none" stroke="#1c1c1c" stroke-width="2.4"/>
<path d="M110.65,1313.9 V1372.1 M104.65,1313.9 H116.65 M104.65,1372.1 H116.65" stroke="#555555" stroke-width="2" fill="none"/>
<path d="M136.25,1307.7 V1375.5 M130.25,1307.7 H142.25 M130.25,1375.5 H142.25" stroke="#555555" stroke-width="2" fill="none"/>
<path d="M161.85,1301.7 V1359.7 M155.85,1301.7 H167.85 M155.85,1359.7 H167.85" stroke="#555555" stroke-width="2" fill="none"/>
<path d="M210.85,1319.3 V1370.4 M204.85,1319.3 H216.85 M204.85,1370.4 H216.85" stroke="#555555" stroke-width="2" fill="none"/>
<path d="M236.45,1328.6 V1383.3 M230.45,1328.6 H242.45 M230.45,1383.3 H242.45" stroke="#555555" stroke-width="2" fill="none"/>
<path d="M262.15,1422.2 V1485.8 M256.15,1422.2 H268.15 M256.15,1485.8 H268.15" stroke="#555555" stroke-width="2" fill="none"/>
<path d="M311.15,1287.6 V1371.1 M305.15,1287.6 H317.15 M305.15,1371.1 H317.15" stroke="#555555" stroke-width="2" fill="none"/>
<path d="M336.35,1453.3 V1507.1 M330.35,1453.3 H342.35 M330.35,1507.1 H342.35" stroke="#555555" stroke-width="2" fill="none"/>
<path d="M362.05,1476 V1524.1 M356.05,1476 H368.05 M356.05,1524.1 H368.05" stroke="#555555" stroke-width="2" fill="none"/>
<path d="M411.15,1283.1 V1366.7 M405.15,1283.1 H417.15 M405.15,1366.7 H417.15" stroke="#555555" stroke-width="2" fill="none"/>
<path d="M436.9,1411.4 V1503 M430.9,1411.4 H442.9 M430.9,1503 H442.9" stroke="#555555" stroke-width="2" fill="none"/>
<path d="M462.35,1419.1 V1478.5 M456.35,1419.1 H468.35 M456.35,1478.5 H468.35" stroke="#555555" stroke-width="2" fill="none"/>
<path d="M511.15,1282 V1376.6 M505.15,1282 H517.15 M505.15,1376.6 H517.15" stroke="#555555" stroke-width="2" fill="none"/>
<path d="M537,1490.5 V1529.4 M531,1490.5 H543 M531,1529.4 H543" stroke="#555555" stroke-width="2" fill="none"/>
<path d="M562.35,1491.1 V1534 M556.35,1491.1 H568.35 M556.35,1534 H568.35" stroke="#555555" stroke-width="2" fill="none"/>
<path d="M611.65,1294.9 V1371.5 M605.65,1294.9 H617.65 M605.65,1371.5 H617.65" stroke="#555555" stroke-width="2" fill="none"/>
<path d="M637.2,1406.3 V1491.6 M631.2,1406.3 H643.2 M631.2,1491.6 H643.2" stroke="#555555" stroke-width="2" fill="none"/>
<path d="M662.55,1487.8 V1524.7 M656.55,1487.8 H668.55 M656.55,1524.7 H668.55" stroke="#555555" stroke-width="2" fill="none"/>
<path d="M711.65,1313.5 V1387 M705.65,1313.5 H717.65 M705.65,1387 H717.65" stroke="#555555" stroke-width="2" fill="none"/>
<path d="M737.45,1486.4 V1531.5 M731.45,1486.4 H743.45 M731.45,1531.5 H743.45" stroke="#555555" stroke-width="2" fill="none"/>
<path d="M763.15,1443.3 V1479.5 M757.15,1443.3 H769.15 M757.15,1479.5 H769.15" stroke="#555555" stroke-width="2" fill="none"/>
<path d="M811.85,1302.1 V1376.2 M805.85,1302.1 H817.85 M805.85,1376.2 H817.85" stroke="#555555" stroke-width="2" fill="none"/>
<path d="M837.55,1448.1 V1511.2 M831.55,1448.1 H843.55 M831.55,1511.2 H843.55" stroke="#555555" stroke-width="2" fill="none"/>
<path d="M863.05,1441.4 V1532.5 M857.05,1441.4 H869.05 M857.05,1532.5 H869.05" stroke="#555555" stroke-width="2" fill="none"/>
<path d="M86.3,1201.6 V1577 M79.1,1577 H887.6 V1582" stroke="#1c1c1c" stroke-width="2.2" fill="none"/>
<path d="M79.1,1202.6 H86.3" stroke="#1c1c1c" stroke-width="2.2"/>
<text x="66.3" y="1210.6" class="tk" text-anchor="end">900</text>
<path d="M79.1,1265 H86.3" stroke="#1c1c1c" stroke-width="2.2"/>
<text x="66.3" y="1273" class="tk" text-anchor="end">800</text>
<path d="M79.1,1327.4 H86.3" stroke="#1c1c1c" stroke-width="2.2"/>
<text x="66.3" y="1335.4" class="tk" text-anchor="end">700</text>
<path d="M79.1,1389.8 H86.3" stroke="#1c1c1c" stroke-width="2.2"/>
<text x="66.3" y="1397.8" class="tk" text-anchor="end">600</text>
<path d="M79.1,1452.2 H86.3" stroke="#1c1c1c" stroke-width="2.2"/>
<text x="66.3" y="1460.2" class="tk" text-anchor="end">500</text>
<path d="M79.1,1514.6 H86.3" stroke="#1c1c1c" stroke-width="2.2"/>
<text x="66.3" y="1522.6" class="tk" text-anchor="end">400</text>
<path d="M79.1,1577 H86.3" stroke="#1c1c1c" stroke-width="2.2"/>
<text x="66.3" y="1585" class="tk" text-anchor="end">300</text>
<path d="M136.4,1577 V1582" stroke="#1c1c1c" stroke-width="2"/>
<text x="136.4" y="1612.4" class="tk" text-anchor="middle">0</text>
<path d="M236.6,1577 V1582" stroke="#1c1c1c" stroke-width="2"/>
<text x="236.6" y="1612.4" class="tk" text-anchor="middle">6</text>
<path d="M336.8,1577 V1582" stroke="#1c1c1c" stroke-width="2"/>
<text x="336.8" y="1612.4" class="tk" text-anchor="middle">12</text>
<path d="M437,1577 V1582" stroke="#1c1c1c" stroke-width="2"/>
<text x="437" y="1612.4" class="tk" text-anchor="middle">24</text>
<path d="M537.2,1577 V1582" stroke="#1c1c1c" stroke-width="2"/>
<text x="537.2" y="1612.4" class="tk" text-anchor="middle">48</text>
<path d="M637.4,1577 V1582" stroke="#1c1c1c" stroke-width="2"/>
<text x="637.4" y="1612.4" class="tk" text-anchor="middle">72</text>
<path d="M737.6,1577 V1582" stroke="#1c1c1c" stroke-width="2"/>
<text x="737.6" y="1612.4" class="tk" text-anchor="middle">96</text>
<path d="M837.8,1577 V1582" stroke="#1c1c1c" stroke-width="2"/>
<text x="837.8" y="1612.4" class="tk" text-anchor="middle">120</text>
<text x="111.15" y="1302.3" class="dl" text-anchor="middle">Aa</text>
<text x="138.55" y="1298.2" class="dl" text-anchor="middle">Aa</text>
<text x="169.35" y="1298.2" class="dl" text-anchor="middle">Aa</text>
<text x="211.15" y="1308.9" class="dl" text-anchor="middle">Aa</text>
<text x="239.25" y="1318.2" class="dl" text-anchor="middle">Aa</text>
<text x="262.05" y="1416.6" class="dl" text-anchor="middle">Bb</text>
<text x="313.95" y="1277.9" class="dl" text-anchor="middle">Aa</text>
<text x="339.5" y="1447" class="dl" text-anchor="middle">Bc</text>
<text x="361.75" y="1467.7" class="dl" text-anchor="middle">Ccd</text>
<text x="413.95" y="1278.9" class="dl" text-anchor="middle">Aa</text>
<text x="439.05" y="1409.3" class="dl" text-anchor="middle">Bb</text>
<text x="466.75" y="1411.4" class="dl" text-anchor="middle">Bb</text>
<text x="511.85" y="1272.7" class="dl" text-anchor="middle">Aa</text>
<text x="536.5" y="1476.6" class="dl" text-anchor="middle">Bd</text>
<text x="568.05" y="1482.4" class="dl" text-anchor="middle">Bd</text>
<text x="614.25" y="1287.2" class="dl" text-anchor="middle">Aa</text>
<text x="639.55" y="1394.8" class="dl" text-anchor="middle">Bb</text>
<text x="662.55" y="1476.6" class="dl" text-anchor="middle">Cd</text>
<text x="714.65" y="1301.7" class="dl" text-anchor="middle">Aa</text>
<text x="737.2" y="1467.7" class="dl" text-anchor="middle">Bd</text>
<text x="762.85" y="1433.6" class="dl" text-anchor="middle">Cb</text>
<text x="811.85" y="1295.5" class="dl" text-anchor="middle">Aa</text>
<text x="837" y="1441.4" class="dl" text-anchor="middle">Bc</text>
<text x="868.25" y="1428" class="dl" text-anchor="middle">Bc</text>
<text transform="translate(21.3,1377.4) rotate(-90)" class="ax" text-anchor="middle">GT/μm</text>
<text x="486.95" y="1650" class="ax" text-anchor="middle">Stress time/h</text>
<text x="6.2" y="1154.4" class="pl">C</text>
<rect x="862" y="1196.6" width="17" height="17" rx="2" fill="#797b80" stroke="#1c1c1c" stroke-width="3.6"/>
<text x="887" y="1215.3" class="lg">S<tspan class="sub" dx="-1" dy="2.5">20</tspan></text>
<rect x="862" y="1250.3" width="17" height="17" rx="2" fill="url(#l30)" stroke="#1c1c1c" stroke-width="3.6"/>
<text x="887" y="1269" class="lg">S<tspan class="sub" dx="-1" dy="2.5">30</tspan></text>
<rect x="862" y="1303.3" width="17" height="17" rx="2" fill="url(#l40)" stroke="#1c1c1c" stroke-width="3.6"/>
<text x="887" y="1322" class="lg">S<tspan class="sub" dx="-1" dy="2.5">40</tspan></text>
</svg>
</body></html>
